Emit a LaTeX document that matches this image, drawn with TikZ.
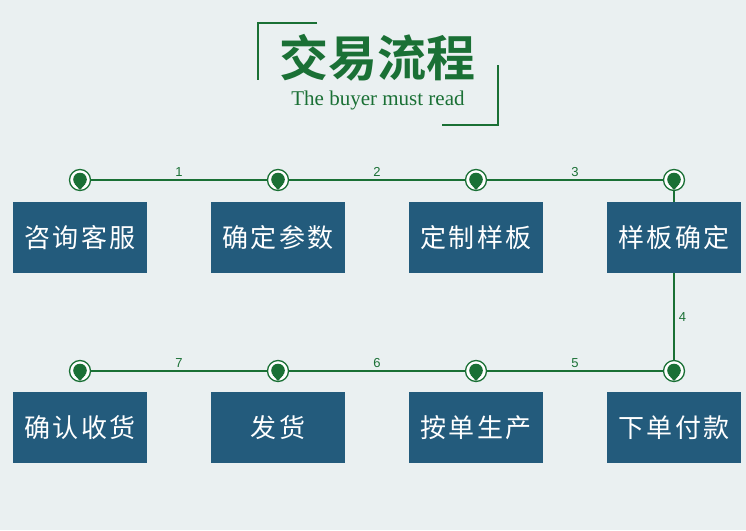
\documentclass[tikz,border=0pt]{standalone}
\usepackage{fontspec}
\setmainfont{Liberation Serif}
\setsansfont{Liberation Sans}
\newfontfamily\cjkbold[BoldFont={Noto Sans CJK SC Bold}]{Noto Sans CJK SC}
\newfontfamily\cjkbox[LetterSpace=8]{Noto Sans CJK SC}
\definecolor{bg}{HTML}{EAF0F1}
\definecolor{boxblue}{HTML}{235B7C}
\definecolor{grn}{HTML}{1A7035}
\usetikzlibrary{calc}
\tikzset{
  x=1pt, y=-1pt,
  stepbox/.style={fill=boxblue, draw=none, minimum width=134pt, minimum height=71pt,
    inner sep=0pt, text=white, font=\cjkbox\fontsize{26}{26}\selectfont},
  conn/.style={draw=grn, line width=1.6pt},
  numlabel/.style={text=grn, font=\fontsize{13}{13}\selectfont\sffamily, inner sep=1pt},
  pinmark/.style={circle, fill=white, draw=grn, line width=1.3pt, minimum size=21pt, inner sep=0pt},
}
\newcommand{\pinat}[2]{%
  \node[pinmark] (#1) at #2 {};
  \fill[grn] ($(#1.center)+(0,-0.5)$) circle[radius=6.8pt];
  \fill[grn] ($(#1.center)+(-5.3,4)$) -- ($(#1.center)+(0,10)$) -- ($(#1.center)+(5.3,4)$) -- cycle;
}
\begin{document}
\begin{tikzpicture}
\useasboundingbox (0,0) rectangle (746,530);
\fill[bg] (0,0) rectangle (746,530);
% title brackets
\draw[grn, line width=2pt] (317,23) -- (258,23) -- (258,80);
\draw[grn, line width=2pt] (498,65) -- (498,125) -- (442,125);
\node[text=grn, font=\cjkbold\bfseries\fontsize{49}{49}\selectfont, inner sep=0pt] (title) at (377,58) {交易流程};
\node[text=grn, font=\fontsize{21}{21}\selectfont, inner sep=0pt] (subtitle) at (378,100) {The buyer must read};
% boxes
\node[stepbox] (b1) at (80,237.5) {咨询客服};
\node[stepbox] (b2) at (278,237.5) {确定参数};
\node[stepbox] (b3) at (476,237.5) {定制样板};
\node[stepbox] (b4) at (674,237.5) {样板确定};
\node[stepbox] (b5) at (80,427.5) {确认收货};
\node[stepbox] (b6) at (278,427.5) {发货};
\node[stepbox] (b7) at (476,427.5) {按单生产};
\node[stepbox] (b8) at (674,427.5) {下单付款};
% connectors
\coordinate (p1) at (80,180);
\coordinate (p2) at (278,180);
\coordinate (p3) at (476,180);
\coordinate (p4) at (674,180);
\coordinate (q1) at (80,371);
\coordinate (q2) at (278,371);
\coordinate (q3) at (476,371);
\coordinate (q4) at (674,371);
\draw[conn] (p1) -- node[numlabel, above=2pt]{1} (p2) -- node[numlabel, above=2pt]{2} (p3) -- node[numlabel, above=2pt]{3} (p4);
\draw[conn] (p4) -- (b4.north);
\draw[conn] (b4.south) -- node[numlabel, right=3pt, pos=0.45]{4} (q4);
\draw[conn] (q1) -- node[numlabel, above=2pt]{7} (q2) -- node[numlabel, above=2pt]{6} (q3) -- node[numlabel, above=2pt]{5} (q4);
\pinat{m1}{(p1)}
\pinat{m2}{(p2)}
\pinat{m3}{(p3)}
\pinat{m4}{(p4)}
\pinat{n1}{(q1)}
\pinat{n2}{(q2)}
\pinat{n3}{(q3)}
\pinat{n4}{(q4)}
\end{tikzpicture}
\end{document}
